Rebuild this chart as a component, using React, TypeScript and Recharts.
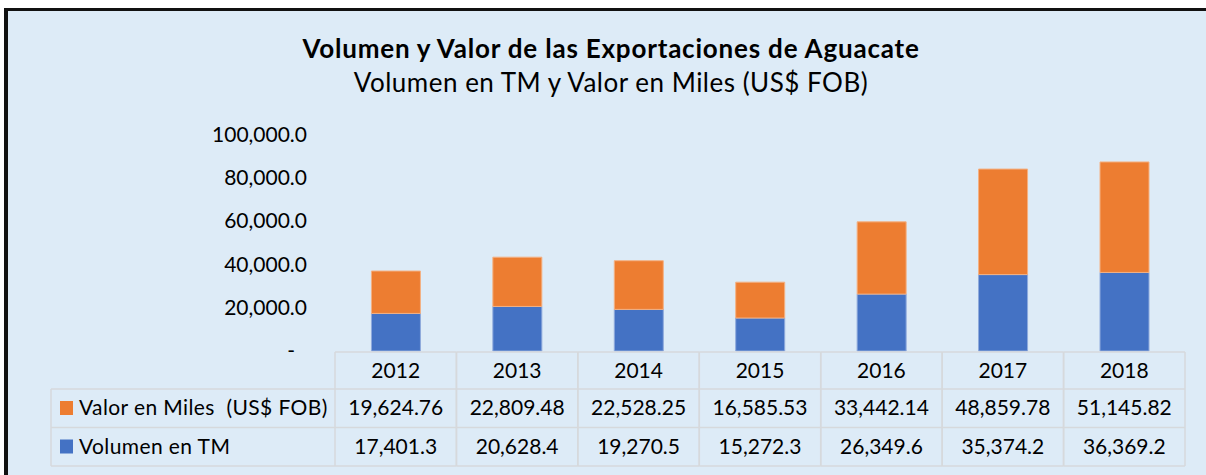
import React from 'react';
import { BarChart, Bar, XAxis, YAxis } from 'recharts';

const years = ['2012', '2013', '2014', '2015', '2016', '2017', '2018'];
const valor = [19624.76, 22809.48, 22528.25, 16585.53, 33442.14, 48859.78, 51145.82];
const volumen = [17401.3, 20628.4, 19270.5, 15272.3, 26349.6, 35374.2, 36369.2];
const yTicks = [0, 20000, 40000, 60000, 80000, 100000];
const valorName = 'Valor en Miles  (US$ FOB)';
const volumenName = 'Volumen en TM';

const data = years.map((year, i) => ({ year, valor: valor[i], volumen: volumen[i] }));

const FONT = 'Lato, "Open Sans", sans-serif';
const ORANGE = '#ED7D31';
const BLUE = '#4472C4';
const GRID = '#D6D9DC';
const COL_W = 850 / years.length;
const LEGEND_W = 284;
const HEAD_H = 37;
const ROW_H = 38.5;

const fmt = (v: number, d: number) =>
  v.toLocaleString('en-US', { minimumFractionDigits: d, maximumFractionDigits: d });

const yLabel = (v: number) => (v === 0 ? '-' : fmt(v, 1));

const YTick = (props: any) => {
  const { x, y, payload } = props;
  const v = payload.value as number;
  return (
    <text x={v === 0 ? x - 12 : x} y={y} dy={7} textAnchor="end" fontSize={21} fill="#000" fontFamily={FONT}>
      {yLabel(v)}
    </text>
  );
};

const TableTick = (props: any) => {
  const { x, y, payload } = props;
  const i = payload.index as number;
  const left = x - COL_W / 2;
  const right = x + COL_W / 2;
  const top = y;
  const r1 = top + HEAD_H;
  const r2 = r1 + ROW_H;
  const r3 = r2 + ROW_H;
  const sw = 1.5;
  return (
    <g fontFamily={FONT} fontSize={21} fill="#000">
      {/* cell borders */}
      <line x1={left} x2={right} y1={top} y2={top} stroke={GRID} strokeWidth={sw} />
      <line x1={left} x2={right} y1={r1} y2={r1} stroke={GRID} strokeWidth={sw} />
      <line x1={left} x2={right} y1={r2} y2={r2} stroke={GRID} strokeWidth={sw} />
      <line x1={left} x2={right} y1={r3} y2={r3} stroke={GRID} strokeWidth={sw} />
      <line x1={left} x2={left} y1={top} y2={r3} stroke={GRID} strokeWidth={sw} />
      <line x1={right} x2={right} y1={top} y2={r3} stroke={GRID} strokeWidth={sw} />
      <text x={x} y={top + HEAD_H / 2 + 7} textAnchor="middle">{payload.value}</text>
      <text x={x} y={r1 + ROW_H / 2 + 7} textAnchor="middle">{fmt(valor[i], 2)}</text>
      <text x={x} y={r2 + ROW_H / 2 + 7} textAnchor="middle">{fmt(volumen[i], 1)}</text>
      {i === 0 && (
        <g>
          <line x1={left - LEGEND_W} x2={left} y1={r1} y2={r1} stroke={GRID} strokeWidth={sw} />
          <line x1={left - LEGEND_W} x2={left} y1={r2} y2={r2} stroke={GRID} strokeWidth={sw} />
          <line x1={left - LEGEND_W} x2={left} y1={r3} y2={r3} stroke={GRID} strokeWidth={sw} />
          <line x1={left - LEGEND_W} x2={left - LEGEND_W} y1={r1} y2={r3} stroke={GRID} strokeWidth={sw} />
          <rect x={left - LEGEND_W + 9} y={r1 + 12} width={13} height={14} fill={ORANGE} />
          <text x={left - LEGEND_W + 28} y={r1 + ROW_H / 2 + 7} style={{ whiteSpace: 'pre', letterSpacing: 0.4 }}>
            {valorName}
          </text>
          <rect x={left - LEGEND_W + 9} y={r2 + 12} width={13} height={14} fill={BLUE} />
          <text x={left - LEGEND_W + 28} y={r2 + ROW_H / 2 + 7} style={{ letterSpacing: 0.4 }}>
            {volumenName}
          </text>
        </g>
      )}
    </g>
  );
};

export default function App() {
  return (
    <div style={{ position: 'relative', width: 1206, height: 475, overflow: 'hidden', background: '#fff' }}>
      <style>{'html, body { margin: 0; padding: 0; overflow: hidden; }'}</style>
      <div
        style={{
          position: 'absolute',
          left: 4,
          top: 8,
          width: 1202,
          height: 467,
          boxSizing: 'border-box',
          borderLeft: '4px solid #111',
          borderTop: '3px solid #111',
          background: '#DDEBF7',
        }}
      />
      <div
        style={{
          position: 'absolute',
          left: 8,
          width: 1206,
          top: 31,
          textAlign: 'center',
          fontFamily: FONT,
          color: '#000',
        }}
      >
        <div style={{ fontWeight: 700, fontSize: 26, lineHeight: '34px', letterSpacing: 0.8 }}>
          Volumen y Valor de las Exportaciones de Aguacate
        </div>
        <div style={{ fontSize: 26, lineHeight: '34px', letterSpacing: 0.5 }}>
          Volumen en TM y Valor en Miles (US$ FOB)
        </div>
      </div>
      <div style={{ position: 'absolute', left: 0, top: 0 }}>
        <BarChart
          width={1206}
          height={475}
          data={data}
          margin={{ top: 135, right: 21, bottom: 9, left: 0 }}
          barCategoryGap="30%"
        >
          <XAxis
            dataKey="year"
            height={115}
            axisLine={false}
            tickLine={false}
            tickSize={0}
            tickMargin={1}
            interval={0}
            tick={<TableTick />}
          />
          <YAxis
            width={335}
            domain={[0, 100000]}
            ticks={yTicks}
            axisLine={false}
            tickLine={false}
            tickSize={0}
            tickMargin={28}
            tick={<YTick />}
          />
          <Bar dataKey="volumen" name={volumenName} stackId="a" fill={BLUE} stroke="#8FAADC" strokeWidth={1} isAnimationActive={false} />
          <Bar dataKey="valor" name={valorName} stackId="a" fill={ORANGE} stroke="#F4B183" strokeWidth={1} isAnimationActive={false} />
        </BarChart>
      </div>
    </div>
  );
}
